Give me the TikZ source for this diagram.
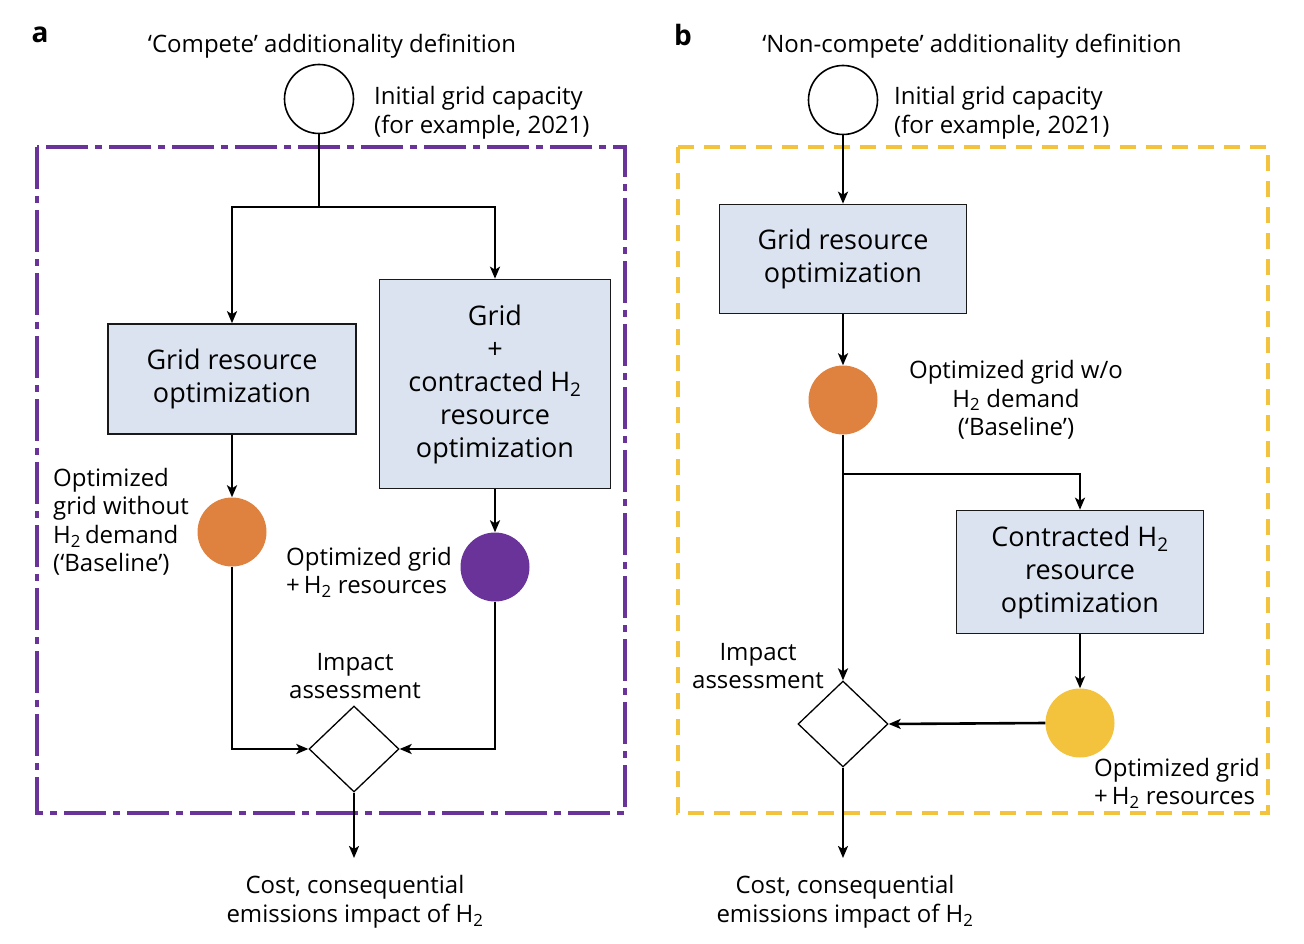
\documentclass[tikz,border=0pt]{standalone}
\usepackage{fontspec}
\setmainfont{Open Sans}
\usetikzlibrary{shapes.geometric,arrows.meta}
\definecolor{purp}{HTML}{6A3399}
\definecolor{oran}{HTML}{E0823F}
\definecolor{yell}{HTML}{F3C33E}
\definecolor{boxfill}{HTML}{DCE3F0}
\begin{document}
\begin{tikzpicture}[x=1pt,y=-1pt,
  lbl/.style={font=\fontsize{24}{28.5}\selectfont, align=center, inner sep=0pt},
  boxnode/.style={draw=black!90, fill=boxfill, line width=1.6pt, align=center, inner sep=0pt,
     font=\fontsize{27}{33}\selectfont},
  dot/.style={circle, inner sep=0pt, minimum size=69pt},
  dia/.style={diamond, draw, line width=1.3pt, inner sep=0pt, minimum width=90pt, minimum height=86pt},
  conn/.style={line width=2.6pt, line cap=butt},
  arr/.style={conn, -{Stealth[length=12pt,width=10pt,inset=3pt]}},
  panel/.style={font=\fontsize{28}{28}\bfseries\selectfont, inner sep=0pt}
]
\useasboundingbox (0,0) rectangle (1304,944);

% dashed frames
\draw[purp, line width=4pt, dash pattern=on 42pt off 7pt on 7pt off 7pt] (37,147) rectangle (625,813);
\draw[yell, line width=4pt, dash pattern=on 16pt off 10pt] (678,147) rectangle (1268,813);

% ---------- panel a ----------
\node[panel] (pa) at (40,35) {a};
\node[lbl] (ta) at (332,46) {‘Compete’ additionality definition};
\node[dot, draw, line width=1.6pt] (ia) at (319,99) {};
\node[lbl, anchor=west, align=left] (ila) at (374,113) {Initial grid capacity\\(for example, 2021)};
\node[boxnode, minimum width=248pt, minimum height=110pt] (ga) at (232,379) {Grid resource\\optimization};
\node[boxnode, minimum width=231pt, minimum height=209pt] (gh) at (495,384) {Grid\\+\\contracted H\textsubscript{2}\\resource\\optimization};
\node[dot, fill=oran] (oa) at (232,532) {};
\node[lbl, anchor=west, align=left] (loa) at (53,522) {Optimized\\grid without\\H\textsubscript{2}\,demand\\(‘Baseline’)};
\node[dot, fill=purp] (pua) at (495,567) {};
\node[lbl, anchor=west, align=left] (lpa) at (286,572) {Optimized grid\\+\,H\textsubscript{2} resources};
\node[dia] (da) at (354,749) {};
\node[lbl] (lia) at (355,676) {Impact\\assessment};
\node[lbl] (lca) at (355,902) {Cost, consequential\\emissions impact of H\textsubscript{2}};
\coordinate (sa) at (319,207);
\coordinate (outa) at (354,858);

\draw[conn] (ia.south) -- (sa);
\draw[arr] (sa) -| (ga.north);
\draw[arr] (sa) -| (gh.north);
\draw[arr] (ga.south) -- (oa.north);
\draw[arr] (gh.south) -- (pua.north);
\draw[arr] (oa.south) |- (da.west);
\draw[arr] (pua.south) |- (da.east);
\draw[arr] (da.south) -- (outa);

% ---------- panel b ----------
\node[panel] (pb) at (683,35) {b};
\node[lbl] (tb) at (972,46) {‘Non-compete’ additionality definition};
\node[dot, draw, line width=1.6pt] (ib) at (843,100) {};
\node[lbl, anchor=west, align=left] (ilb) at (894,113) {Initial grid capacity\\(for example, 2021)};
\node[boxnode, minimum width=247pt, minimum height=109pt] (gb) at (843,259) {Grid resource\\optimization};
\node[dot, fill=oran] (ob) at (843,400) {};
\node[lbl] (lob) at (1016,400) {Optimized grid w/o\\H\textsubscript{2} demand\\(‘Baseline’)};
\node[boxnode, minimum width=247pt, minimum height=123pt] (cb) at (1080,572) {Contracted H\textsubscript{2}\\resource\\optimization};
\node[dot, fill=yell] (yb) at (1080,723) {};
\node[lbl, anchor=west, align=left] (lyb) at (1094,783) {Optimized grid\\+\,H\textsubscript{2} resources};
\node[dia] (db) at (843,724) {};
\node[lbl] (lib) at (758,666) {Impact\\assessment};
\node[lbl] (lcb) at (845,902) {Cost, consequential\\emissions impact of H\textsubscript{2}};
\coordinate (sb) at (843,474);
\coordinate (outb) at (843,858);

\draw[arr] (ib.south) -- (gb.north);
\draw[arr] (gb.south) -- (ob.north);
\draw[arr] (ob.south) -- (db.north);
\draw[arr] (sb) -| (cb.north);
\draw[arr] (cb.south) -- (yb.north);
\draw[arr] (yb.west) -- (db.east);
\draw[arr] (db.south) -- (outb);
\end{tikzpicture}
\end{document}
